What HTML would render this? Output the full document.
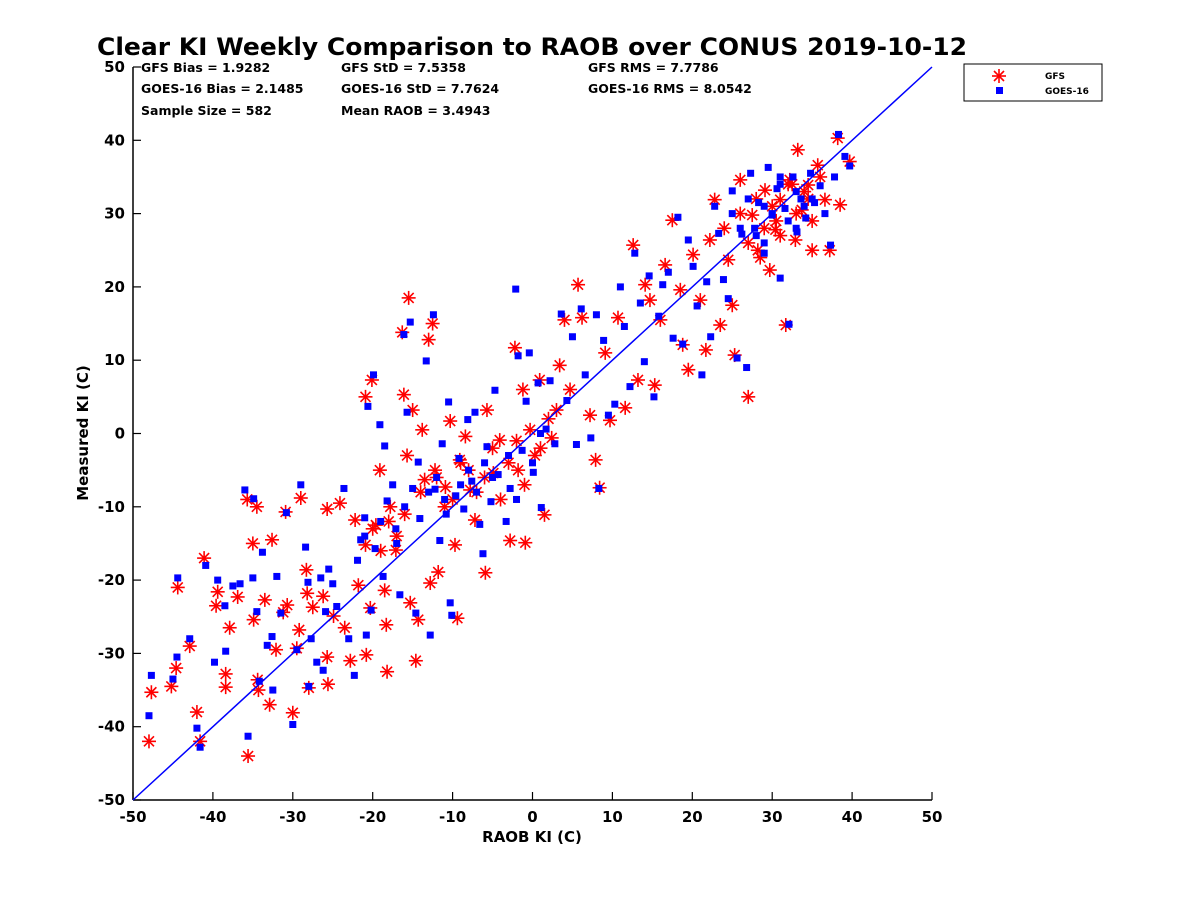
<!DOCTYPE html>
<html><head><meta charset="utf-8"><style>
body{margin:0;background:#fff;}
svg{display:block;font-family:"DejaVu Sans","Liberation Sans",sans-serif;}
</style></head><body>
<svg id="chart" width="1200" height="900" viewBox="0 0 1200 900">
<rect width="1200" height="900" fill="#fff"/>
<text x="532" y="55" font-size="24" font-weight="bold" text-anchor="middle" textLength="870" lengthAdjust="spacingAndGlyphs">Clear KI Weekly Comparison to RAOB over CONUS 2019-10-12</text>
<g font-size="12.5" font-weight="bold">
<text x="141" y="72">GFS Bias = 1.9282</text>
<text x="141" y="93">GOES-16 Bias = 2.1485</text>
<text x="141" y="115">Sample Size = 582</text>
<text x="341" y="72">GFS StD = 7.5358</text>
<text x="341" y="93">GOES-16 StD = 7.7624</text>
<text x="341" y="115">Mean RAOB = 3.4943</text>
<text x="588" y="72">GFS RMS = 7.7786</text>
<text x="588" y="93">GOES-16 RMS = 8.0542</text>
</g>
<g id="axes"></g>
<g id="marks"></g>
<g>
<rect x="964" y="64" width="138" height="37" fill="#fff" stroke="#000" stroke-width="1"/>
<g>
<g stroke="#f00" stroke-width="1.6"><line x1="999" y1="69" x2="999" y2="83"/><line x1="992" y1="76" x2="1006" y2="76"/><line x1="994" y1="71" x2="1004" y2="81"/><line x1="994" y1="81" x2="1004" y2="71"/></g>
<text x="1045" y="79" font-size="9" font-weight="bold">GFS</text></g>
<g>
<rect x="996" y="87" width="7" height="7" fill="#00f"/>
<text x="1045" y="94" font-size="9" font-weight="bold">GOES-16</text></g>
</g>
<text x="532" y="842" font-size="15" font-weight="bold" text-anchor="middle">RAOB KI (C)</text>
<text transform="translate(88,433) rotate(-90)" font-size="15" font-weight="bold" text-anchor="middle">Measured KI (C)</text>
</svg>
<script>
const xTicks=[-50,-40,-30,-20,-10,0,10,20,30,40,50];
const yTicks=[-50,-40,-30,-20,-10,0,10,20,30,40,50];
const gfsRaob=[-48,-47.7,-45.2,-44.6,-44.4,-42.9,-42,-41.6,-41.1,-39.6,-39.4,-38.4,-38.4,-37.9,-36.9,-35.6,-35.7,-35,-34.5,-34.9,-34.4,-34.3,-33.5,-32.9,-32.6,-32.1,-31.2,-30.7,-30.9,-30,-29.5,-29,-29.2,-28.3,-28,-28.2,-27.5,-26.2,-25.7,-25.6,-25.7,-24.9,-24.1,-23.5,-22.8,-22.2,-21.8,-20.9,-20.8,-20.9,-20.3,-20.1,-19.6,-19.1,-18.5,-18.2,-18.3,-17.8,-17.1,-16.3,-16.1,-15.7,-15.5,-15.3,-15,-14.6,-14.3,-13.8,-13.5,-13,-12.8,-12.5,-12.2,-11.8,-10.9,-10.3,-9.7,-9.4,-9.1,-8.4,-7.8,-7.2,-5.9,-5.7,-4.9,-4.1,-2.8,-2.2,-1.8,-1.2,-0.9,-0.3,0.3,0.9,1.5,2.4,3,3.4,4,4.7,5.7,6.2,7.2,7.9,8.4,9.1,9.7,10.7,11.6,12.6,13.2,14.1,14.7,15.3,16,16.6,17.5,18.5,18.8,19.5,20.1,21,21.7,22.2,22.8,23.5,24.5,25,25.3,26,27,27.5,28.2,29.1,29.7,30.4,31,31.7,32.2,32.9,33.2,33.7,34.5,35,35.7,36.6,37.2,38.2,38.5,39.7,
-20,-19,-18,-17,-16,-14,-12,-11,-10,-9,-8,-7,-6,-5,-4,-3,-2,-1,1,2,24,26,27,28,29,30,31,32,33,34,35,36,28.5,30.5,32.5,34.5];
const gfsMeasured=[-42,-35.3,-34.5,-32,-21,-29,-38,-42,-17,-23.5,-21.6,-32.8,-34.6,-26.5,-22.3,-44,-9,-15,-10,-25.4,-33.6,-35,-22.7,-37,-14.5,-29.5,-24.4,-23.4,-10.7,-38.1,-29.3,-8.8,-26.8,-18.6,-34.7,-21.8,-23.7,-22.2,-10.3,-34.2,-30.5,-24.9,-9.5,-26.5,-31,-11.8,-20.7,-15.2,-30.2,5,-23.8,7.3,-12.5,-5,-21.4,-32.5,-26.1,-10,-15.9,13.8,5.3,-3,18.5,-23.1,3.2,-31,-25.4,0.5,-6.3,12.8,-20.4,15,-5,-18.9,-7.3,1.7,-15.2,-25.2,-3.6,-0.4,-7.7,-11.8,-19,3.2,-5.4,-0.9,-14.6,11.7,-5,6,-14.9,0.5,-3,7.3,-11.1,-0.6,3.2,9.3,15.5,6,20.3,15.8,2.5,-3.6,-7.4,11,1.8,15.8,3.5,25.7,7.3,20.3,18.2,6.6,15.5,23,29.1,19.6,12.1,8.7,24.4,18.2,11.4,26.4,31.9,14.8,23.7,17.5,10.7,34.6,5,29.8,25,33.2,22.3,27.8,31.9,14.8,34.6,26.4,38.7,30.5,33.9,25,36.6,31.9,25,40.3,31.2,37.1,
-13,-16,-12,-14,-11,-8,-6,-10,-9,-4,-5,-8,-6,-2,-9,-4,-1,-7,-2,2,28,30,26,32,28,31,27,34,30,33,29,35,24,29,34,32];
const goesRaob=[-48,-47.7,-45,-44.5,-44.4,-42.9,-42,-41.6,-40.9,-39.8,-39.4,-38.5,-38.4,-37.5,-36.6,-36,-35.6,-35,-34.9,-34.5,-34.2,-33.8,-33.2,-32.5,-32.6,-32,-31.5,-30.8,-30,-29.5,-29,-28.4,-28.1,-28,-27.7,-27,-26.5,-26.2,-25.9,-25.5,-25,-24.5,-23.6,-23,-22.3,-21.9,-21.5,-21,-20.8,-20.6,-20.2,-19.9,-19.7,-19.1,-18.7,-18.5,-18.2,-17.5,-17.1,-16.6,-16.1,-15.7,-15.3,-15,-14.6,-14.3,-14.1,-13.3,-12.8,-12.4,-12.2,-11.6,-11.3,-10.8,-10.5,-10.3,-10.1,-9.6,-9.2,-8.6,-8.1,-7.6,-7.2,-6.6,-6.2,-5.7,-5.2,-4.7,-4.3,-3.3,-2.8,-2.1,-1.8,-1.3,-0.8,-0.4,0.1,0.7,1.1,1.7,2.2,2.8,3.6,4.3,5,5.5,6.1,6.6,7.3,8,8.3,8.9,9.5,10.3,11,11.5,12.2,12.8,13.5,14,14.6,15.2,15.8,16.3,17,17.6,18.2,18.8,19.5,20.1,20.6,21.2,21.8,22.3,22.8,23.3,23.9,24.5,25,25.6,26.2,26.8,27.3,27.8,28.3,29,29.5,30,30.6,31,31.6,32.1,32.6,33.1,33.6,34.2,34.8,35.3,36,36.6,37.3,37.8,38.3,39.1,39.7,
-21,-19,-17,-16,-13,-12,-11,-9,-8,-7,-6,-5,-3,-2,0,1,25,26,27,28,29,30,31,32,33,34,35,29,31,33];
const goesMeasured=[-38.5,-33,-33.5,-30.5,-19.7,-28,-40.2,-42.8,-18,-31.2,-20,-23.5,-29.7,-20.8,-20.5,-7.7,-41.3,-19.7,-8.9,-24.3,-33.8,-16.2,-28.9,-35,-27.7,-19.5,-24.5,-10.8,-39.7,-29.5,-7,-15.5,-20.3,-34.5,-28,-31.2,-19.7,-32.3,-24.3,-18.5,-20.5,-23.6,-7.5,-28,-33,-17.3,-14.5,-11.5,-27.5,3.7,-24.1,8,-15.7,1.2,-19.5,-1.7,-9.2,-7,-13,-22,13.5,2.9,15.2,-7.5,-24.5,-3.9,-11.6,9.9,-27.5,16.2,-7.6,-14.6,-1.4,-11,4.3,-23.1,-24.8,-8.5,-3.4,-10.3,1.9,-6.5,2.9,-12.4,-16.4,-1.8,-9.3,5.9,-5.6,-12,-7.5,19.7,10.6,-2.3,4.4,11,-5.3,6.9,-10.1,0.6,7.2,-1.4,16.3,4.5,13.2,-1.5,17,8,-0.6,16.2,-7.5,12.7,2.5,4,20,14.6,6.4,24.6,17.8,9.8,21.5,5,16,20.3,22,13,29.5,12.2,26.4,22.8,17.4,8,20.7,13.2,31,27.3,21,18.4,33.1,10.3,27.2,9,35.5,28,31.5,24.6,36.3,29.8,33.4,21.2,30.7,14.9,35,27.5,32,29.4,35.5,31.5,33.8,30,25.7,35,40.8,37.8,36.5,
-14,-12,-15,-10,-8,-6,-9,-7,-5,-8,-4,-6,-3,-9,-4,0,30,28,32,27,31,30,34,29,33,31,32,26,35,28];
const X0=133,X1=932,Y0=800,Y1=67;
const xs=v=>X0+(v+50)/100*(X1-X0);
const ys=v=>Y0-(v+50)/100*(Y0-Y1);
const NS="http://www.w3.org/2000/svg";
const axes=document.getElementById('axes'),marks=document.getElementById('marks');
function mk(tag,attrs,parent){const e=document.createElementNS(NS,tag);for(const k in attrs)e.setAttribute(k,attrs[k]);parent.appendChild(e);return e;}
const xa=mk('line',{x1:X0,y1:Y0,x2:X1,y2:Y0,stroke:'#000','stroke-width':1.5},axes);


const ya=mk('line',{x1:X0,y1:Y0,x2:X0,y2:Y1,stroke:'#000','stroke-width':1.5},axes);


xTicks.forEach(t=>{mk('line',{x1:xs(t),y1:Y0,x2:xs(t),y2:Y0-8,stroke:'#000','stroke-width':1.2},axes);
const tx=mk('text',{x:xs(t),y:Y0+22,'font-size':15,'font-weight':'bold','text-anchor':'middle'},axes);tx.textContent=t;

});
yTicks.forEach(t=>{mk('line',{x1:X0,y1:ys(t),x2:X0+8,y2:ys(t),stroke:'#000','stroke-width':1.2},axes);
const tx=mk('text',{x:X0-8,y:ys(t)+5,'font-size':15,'font-weight':'bold','text-anchor':'end'},axes);tx.textContent=t;

});
gfsRaob.forEach((r,i)=>{const cx=xs(r),cy=ys(gfsMeasured[i]);const g=mk('g',{stroke:'#f00','stroke-width':1.6},marks);


mk('line',{x1:cx,y1:cy-7,x2:cx,y2:cy+7},g);mk('line',{x1:cx-7,y1:cy,x2:cx+7,y2:cy},g);
mk('line',{x1:cx-5,y1:cy-5,x2:cx+5,y2:cy+5},g);mk('line',{x1:cx-5,y1:cy+5,x2:cx+5,y2:cy-5},g);});
goesRaob.forEach((r,i)=>{const s=mk('rect',{x:xs(r)-3.5,y:ys(goesMeasured[i])-3.5,width:7,height:7,fill:'#00f'},marks);

});
const one=mk('line',{x1:xs(-50),y1:ys(-50),x2:xs(50),y2:ys(50),stroke:'#00f','stroke-width':1.5},marks);


</script>
</body></html>
